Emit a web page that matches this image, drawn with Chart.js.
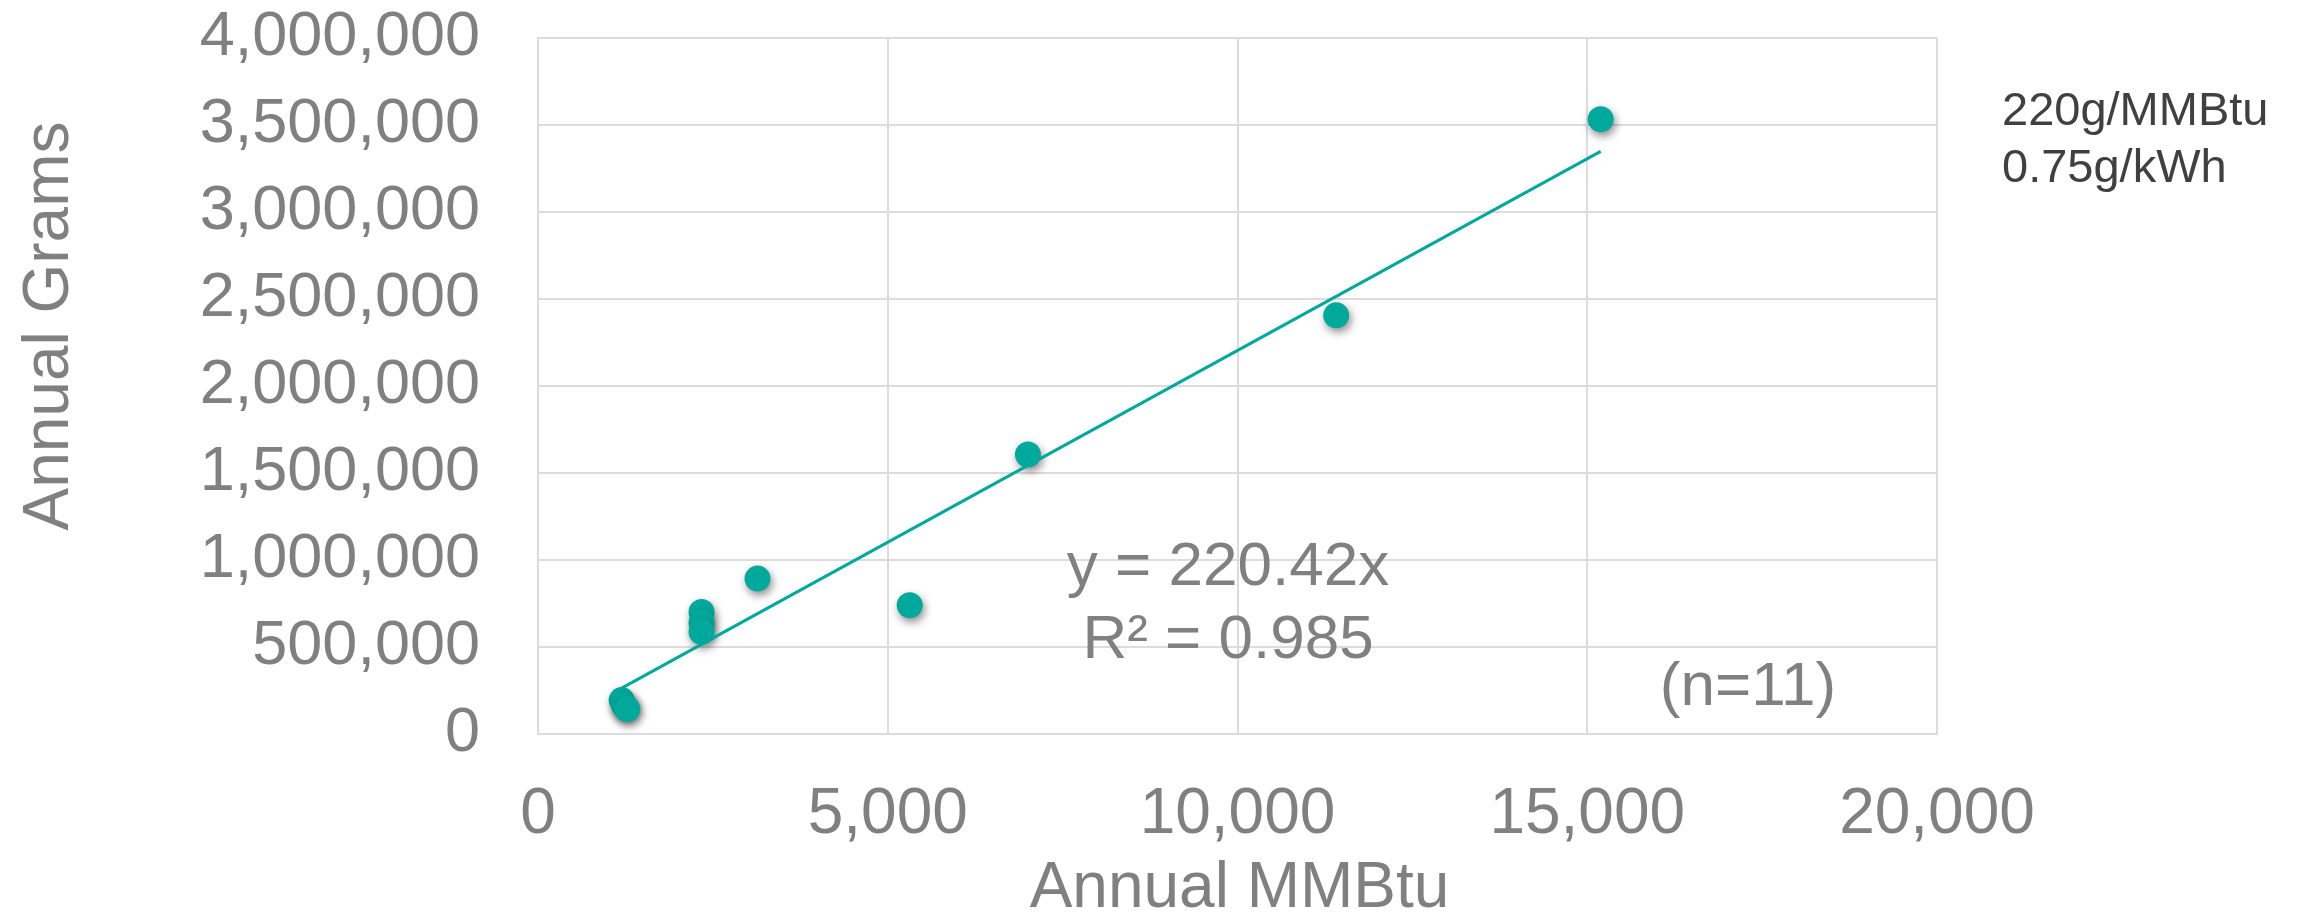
<!DOCTYPE html>
<html>
<head>
<meta charset="utf-8">
<title>Annual Grams vs Annual MMBtu</title>
<script src="https://cdn.jsdelivr.net/npm/chart.js@4/dist/chart.umd.min.js"></script>
<style>
  html, body { margin: 0; padding: 0; background: #ffffff; }
  #wrap { width: 2303px; height: 913px; position: relative; }
</style>
</head>
<body>
<div id="wrap"><canvas id="chart" width="2303" height="913"></canvas></div>
<script>
// Site readings: annual fuel use (MMBtu) and annual emissions (grams)
const mmbtu = [1196, 1230, 1276, 2338, 2338, 2338, 3138, 5314, 7004, 11411, 15192];
const grams = [195000, 165000, 143000, 701000, 640000, 587000, 893000, 740000, 1606000, 2406000, 3533000];

// Trendline through the origin
const slope = 220.42;
const rSquared = '0.985';

const xTicks = [0, 5000, 10000, 15000, 20000];
const yTicks = [0, 500000, 1000000, 1500000, 2000000, 2500000, 3000000, 3500000, 4000000];

const notes = ['220g/MMBtu', '0.75g/kWh'];
const countLabel = '(n=11)';

const TEAL = '#00A99C';
const GRID = '#DCDCDC';
const GREY = '#808080';
const FONT = "'Liberation Sans', Arial, Helvetica, sans-serif";

const points = mmbtu.map((x, i) => ({ x: x, y: grams[i] }));
const xMin = Math.min(...mmbtu);
const xMax = Math.max(...mmbtu);
const trend = [{ x: xMin, y: slope * xMin }, { x: xMax, y: slope * xMax }];

const fmt = v => Number(v).toLocaleString('en-US');

// Soft drop shadow beneath the markers
const markerShadow = {
  id: 'markerShadow',
  beforeDatasetDraw(chart, args) {
    if (args.index !== 1) return;
    const ctx = chart.ctx;
    ctx.save();
    ctx.shadowColor = 'rgba(0,0,0,0.45)';
    ctx.shadowBlur = 9;
    ctx.shadowOffsetX = 2;
    ctx.shadowOffsetY = 4;
  },
  afterDatasetDraw(chart, args) {
    if (args.index !== 1) return;
    chart.ctx.restore();
  }
};

// Axis titles, fit equation and side notes
const textLayer = {
  id: 'textLayer',
  afterDraw(chart) {
    const ctx = chart.ctx;
    const area = chart.chartArea;
    ctx.save();

    ctx.fillStyle = GREY;
    ctx.font = '64px ' + FONT;
    ctx.textAlign = 'center';
    ctx.textBaseline = 'alphabetic';
    ctx.fillText('Annual MMBtu', (area.left + area.right) / 2 + 2, 907);

    ctx.save();
    ctx.translate(68, 326);
    ctx.rotate(-Math.PI / 2);
    ctx.fillText('Annual Grams', 0, 0);
    ctx.restore();

    ctx.font = '62px ' + FONT;
    ctx.fillText('y = ' + slope.toFixed(2) + 'x', 1228, 585);
    ctx.fillText('R\u00B2 = ' + rSquared, 1228, 658);
    ctx.fillText(countLabel, 1748, 705);

    ctx.fillStyle = '#404040';
    ctx.font = '47px ' + FONT;
    ctx.textAlign = 'left';
    ctx.fillText(notes[0], 2002, 125);
    ctx.fillText(notes[1], 2002, 182);

    ctx.restore();
  }
};

new Chart(document.getElementById('chart'), {
  type: 'scatter',
  data: {
    datasets: [
      {
        type: 'line',
        label: 'Linear fit',
        data: trend,
        borderColor: TEAL,
        borderWidth: 3,
        pointRadius: 0,
        fill: false,
        tension: 0,
        clip: false
      },
      {
        label: 'Sites',
        data: points,
        backgroundColor: TEAL,
        borderColor: TEAL,
        borderWidth: 0,
        pointRadius: 13,
        pointHoverRadius: 13,
        clip: false
      }
    ]
  },
  options: {
    responsive: false,
    devicePixelRatio: 1,
    animation: false,
    events: [],
    layout: { padding: { left: 0, top: 38, right: 366, bottom: 0 } },
    plugins: {
      legend: { display: false },
      tooltip: { enabled: false },
      title: { display: false }
    },
    scales: {
      x: {
        type: 'linear',
        min: 0,
        max: 20000,
        afterBuildTicks(scale) { scale.ticks = xTicks.map(v => ({ value: v })); },
        afterFit(scale) { scale.height = 179; },
        grid: { color: GRID, lineWidth: 2, drawTicks: false },
        border: { display: true, color: GRID, width: 2 },
        ticks: {
          color: GREY,
          font: { family: FONT, size: 64 },
          padding: 43,
          maxRotation: 0,
          callback: v => fmt(v)
        },
        title: { display: false }
      },
      y: {
        type: 'linear',
        min: 0,
        max: 4000000,
        afterBuildTicks(scale) { scale.ticks = yTicks.map(v => ({ value: v })); },
        afterFit(scale) {
          scale.width = 538;
          scale.paddingTop = 0;
          scale.paddingBottom = 0;
        },
        grid: { color: GRID, lineWidth: 2, drawTicks: false },
        border: { display: true, color: GRID, width: 2 },
        ticks: {
          color: GREY,
          font: { family: FONT, size: 63 },
          padding: 58,
          callback: v => fmt(v)
        },
        title: { display: false }
      }
    }
  },
  plugins: [markerShadow, textLayer]
});
</script>
</body>
</html>
